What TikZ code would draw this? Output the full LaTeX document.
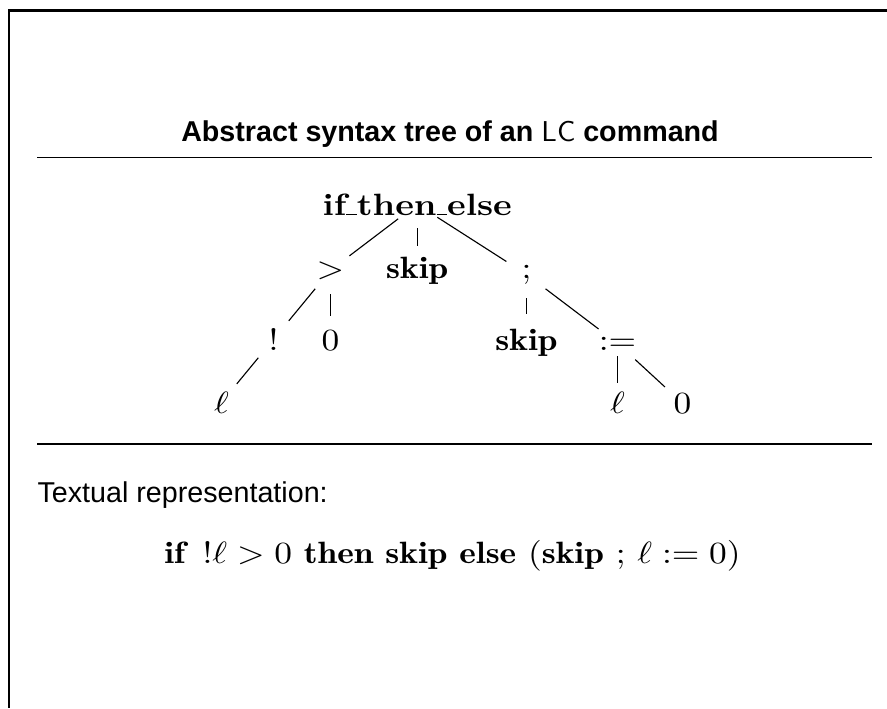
\documentclass[tikz,border=0pt]{standalone}
\usepackage{fontspec}
\usepackage{graphicx}
\newfontfamily\headfont{Liberation Sans}
\newcommand{\wider}[1]{\scalebox{1.15}[1]{#1}}
\newcommand{\uscore}{\rule{.3em}{.4pt}}
\tikzset{
  tnode/.style={inner sep=0pt, anchor=base, font=\fontsize{10.95}{13}\selectfont},
  branch/.style={thin, shorten <=8.5pt, shorten >=8.5pt},
  rulebar/.style={line width=0.6pt},
}
\begin{document}
\begin{tikzpicture}
  \useasboundingbox (0,0) rectangle (11.0875,-8.85);
  % frame, open to the right and to the bottom
  \draw[line width=0.8pt] (11.0875,-0.131) -- (0.1125,-0.131) -- (0.1125,-8.85);
  \node[anchor=base, inner sep=0pt, font=\headfont\fontsize{10.2}{12}\selectfont\bfseries] (title) at (5.625,-1.769)
    {Abstract syntax tree of an {\mdseries\sffamily LC} command};
  \draw[rulebar] (0.4625,-1.969) -- (10.9,-1.969);% upper rule
  % the tree
  \node[tnode] (root) at (5.215,-2.688) {\wider{\textbf{if\uscore then\uscore else}}};
  \node[tnode] (gt) at (4.13,-3.475) {\wider{$>$}};
  \node[tnode] (skipa) at (5.215,-3.475) {\wider{$\mathbf{skip}$}};
  \node[tnode] (semi) at (6.581,-3.475) {\wider{$;$}};
  \node[tnode] (bang) at (3.419,-4.375) {\wider{$!$}};
  \node[tnode] (zeroa) at (4.13,-4.375) {\wider{$0$}};
  \node[tnode] (skipb) at (6.581,-4.375) {\wider{$\mathbf{skip}$}};
  \node[tnode] (assign) at (7.72,-4.375) {\wider{$:=$}};
  \node[tnode] (ella) at (2.769,-5.163) {\wider{$\ell$}};
  \node[tnode] (ellb) at (7.72,-5.163) {\wider{$\ell$}};
  \node[tnode] (zerob) at (8.531,-5.163) {\wider{$0$}};
  \draw[branch] (root.center) -- (gt.center);
  \draw[branch] (root.center) -- (skipa.center);
  \draw[branch] (root.center) -- (semi.center);
  \draw[branch] (gt.center) -- (bang.center);
  \draw[branch] (gt.center) -- (zeroa.center);
  \draw[branch, shorten >=10pt] (semi.center) -- (skipb.center);
  \draw[branch] (semi.center) -- (assign.center);
  \draw[branch] (bang.center) -- (ella.center);
  \draw[branch, shorten <=4.5pt, shorten >=7pt] (assign.center) -- (ellb.center);
  \draw[branch] (assign.center) -- (zerob.center);
  \draw[rulebar] (0.4625,-5.55) -- (10.9,-5.55);% lower rule
  % textual form
  \node[anchor=base west, inner sep=0pt, font=\headfont\fontsize{10.2}{12}\selectfont] (caption) at (0.4625,-6.275)
    {Textual representation:};
  \node[anchor=base, inner sep=0pt, font=\fontsize{10.95}{13}\selectfont] (formula) at (5.656,-7.04)
    {\wider{$\mathbf{if}\ \,!\ell > 0\ \mathbf{then}\ \mathbf{skip}\ \mathbf{else}\ (\mathbf{skip}\ ;\,\ell := 0)$}};
\end{tikzpicture}
\end{document}
